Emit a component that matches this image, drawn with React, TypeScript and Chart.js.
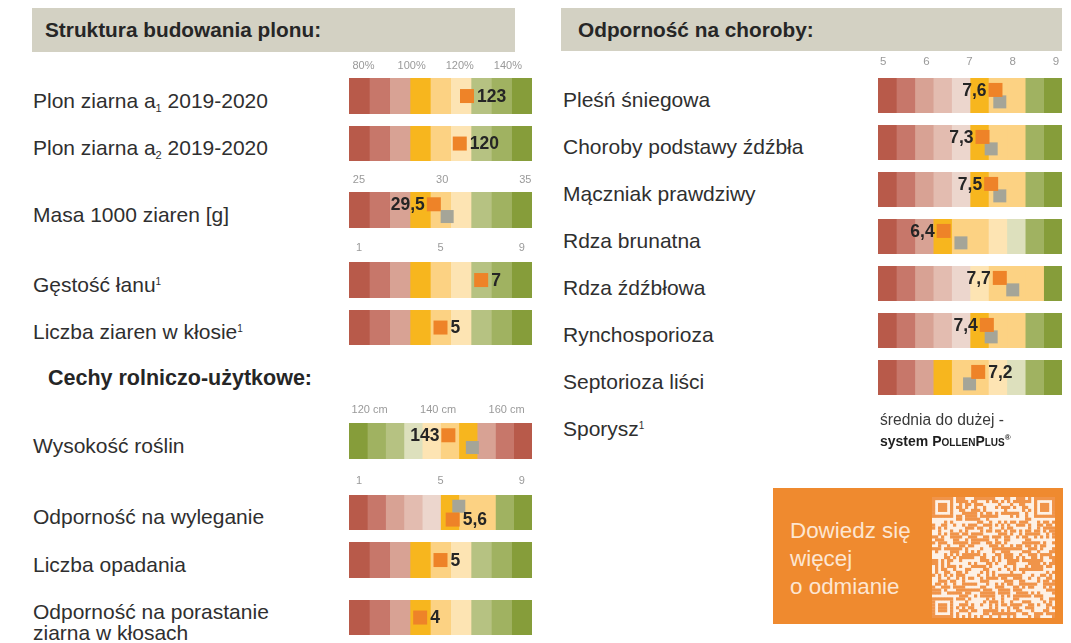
import React, { useEffect, useRef } from "react";
import { Chart, registerables } from "chart.js";

Chart.register(...registerables);

// ---------------- DATA ----------------
const structLabels = ["Plon ziarna a₁ 2019-2020", "Plon ziarna a₂ 2019-2020", "Masa 1000 ziaren [g]", "Gęstość łanu¹", "Liczba ziaren w kłosie¹"];
const structValues = [123, 120, 29.5, 7, 5];
const structRefs: (number | null)[] = [null, null, 30.3, null, null];

const traitLabels = ["Wysokość roślin", "Odporność na wyleganie", "Liczba opadania", "Odporność na porastanie\nziarna w kłosach"];
const traitValues = [143, 5.6, 5, 4];
const traitRefs: (number | null)[] = [150, 5.9, null, null];

const diseaseLabels = ["Pleśń śniegowa", "Choroby podstawy źdźbła", "Mączniak prawdziwy", "Rdza brunatna", "Rdza źdźbłowa", "Rynchosporioza", "Septorioza liści", "Sporysz¹"];
const diseaseValues: (number | null)[] = [7.6, 7.3, 7.5, 6.4, 7.7, 7.4, 7.2, null];
const diseaseRefs: (number | null)[] = [7.7, 7.5, 7.7, 6.8, 8.0, 7.5, 7.0, null];

const percentTicks = [80, 100, 120, 140];
const tkwTicks = [25, 30, 35];
const scoreTicks = [1, 5, 9];
const heightTicks = [120, 140, 160];
const diseaseTicks = [5, 6, 7, 8, 9];

// ---------------- STYLE ----------------
const FONT = '"Liberation Sans", Arial, Helvetica, sans-serif';
const ORANGE = "#ee8328";
const GREY = "#a5a598";
const DR = "#b85a4a", RD = "#c7776a", PK = "#d8a294", LP = "#e3bcb0", VP = "#ecd6cd";
const GD = "#f7b61e", LO = "#fcd283", CR = "#fde4b3", VG = "#dde0bd", LG = "#b6c282", MG = "#a0b261", DG = "#869d3a";
const std9 = [DR, RD, PK, GD, LO, CR, LG, MG, DG];
const pinkGold10 = [DR, RD, PK, LP, VP, GD, LO, LO, MG, DG];
const goldEarly10 = [DR, RD, PK, GD, LO, LO, CR, VG, MG, DG];
const rust10 = [DR, RD, PK, LP, VP, CR, LO, LO, LO, DG];
const height10 = [DG, MG, LG, VG, CR, LO, GD, PK, RD, DR];

type RowSpec = {
  x: number; top: number; w: number; h: number;
  min: number; max: number; colors: string[];
  value: number; refValue: number | null;
  ticks?: number[]; suffix?: string; tickGap?: number; tickFont?: number;
  side: "left" | "right"; refAbove?: boolean;
};

const fmt = (v: number) => String(v).replace(".", ",");

function BarRow({ spec }: { spec: RowSpec }) {
  const ref = useRef<HTMLCanvasElement>(null);
  const PADX = 14, PADT = 26, PADB = 2;
  const cw = spec.w + PADX * 2;
  const ch = spec.h + PADT + PADB;
  useEffect(() => {
    if (!ref.current) return;
    const n = spec.colors.length;
    const step = (spec.max - spec.min) / n;
    const bands = spec.colors.map((c, i) => ({
      type: "bar",
      indexAxis: "y",
      grouped: false,
      barThickness: spec.h,
      data: [{ x: [spec.min + i * step, spec.min + (i + 1) * step], y: 0.5 }],
      backgroundColor: c,
      borderWidth: 0,
    }));
    const hasRef = spec.refValue !== null;
    const oy = hasRef ? (spec.refAbove ? 0.3 : 0.66) : 0.5;
    const gy = spec.refAbove ? 0.68 : 0.32;
    const datasets: any[] = [
      { type: "scatter", data: [{ x: spec.value, y: oy }], pointStyle: "rect", pointRadius: 9.9, pointHoverRadius: 9.9, backgroundColor: ORANGE, borderWidth: 0 },
    ];
    if (hasRef) {
      datasets.push({ type: "scatter", data: [{ x: spec.refValue, y: gy }], pointStyle: "rect", pointRadius: 9.2, pointHoverRadius: 9.2, backgroundColor: GREY, borderWidth: 0 });
    }
    datasets.push(...bands);
    const textPlugin = {
      id: "rowText",
      afterDatasetsDraw(chart: any) {
        const ctx = chart.ctx;
        const xs = chart.scales.x;
        const top = chart.chartArea.top;
        ctx.save();
        if (spec.ticks) {
          ctx.font = `${spec.tickFont || 11}px ${FONT}`;
          ctx.fillStyle = "#9a9a9a";
          ctx.textAlign = "center";
          ctx.textBaseline = "middle";
          spec.ticks.forEach((t) => ctx.fillText(`${t}${spec.suffix || ""}`, xs.getPixelForValue(t), top - (spec.tickGap || 12)));
        }
        const pt = chart.getDatasetMeta(0).data[0];
        ctx.font = `bold 17.5px ${FONT}`;
        ctx.fillStyle = "#252525";
        ctx.textBaseline = "middle";
        const lbl = fmt(spec.value);
        if (spec.side === "right") {
          ctx.textAlign = "left";
          ctx.fillText(lbl, pt.x + 10, pt.y + 1);
        } else {
          ctx.textAlign = "right";
          ctx.fillText(lbl, pt.x - 9, pt.y + 1);
        }
        ctx.restore();
      },
    };
    const chart = new Chart(ref.current, {
      type: "bar",
      data: { datasets },
      options: {
        animation: false,
        responsive: false,
        devicePixelRatio: 1,
        events: [],
        layout: { padding: { left: PADX, right: PADX, top: PADT, bottom: PADB } },
        plugins: { legend: { display: false }, tooltip: { enabled: false } },
        scales: {
          x: { type: "linear", min: spec.min, max: spec.max, display: false, offset: false, grid: { offset: false } },
          y: { type: "linear", min: 0, max: 1, display: false, offset: false, ticks: { stepSize: 1 } },
        },
      } as any,
      plugins: [textPlugin],
    } as any);
    return () => chart.destroy();
  }, []);
  return (
    <canvas
      ref={ref}
      width={cw}
      height={ch}
      style={{ position: "absolute", left: spec.x - PADX, top: spec.top - PADT, width: cw, height: ch }}
    />
  );
}

function QrBox() {
  const ref = useRef<HTMLCanvasElement>(null);
  useEffect(() => {
    const c = ref.current;
    if (!c) return;
    const ctx = c.getContext("2d")!;
    const N = 41, W = 123, H = 121;
    const sx = W / N, sy = H / N;
    ctx.fillStyle = "#fdf1e6";
    ctx.fillRect(0, 0, W, H);
    ctx.fillStyle = "#f0944a";
    const finder = (i: number, j: number) => {
      const corners = [[0, 0], [N - 7, 0], [0, N - 7]];
      for (const [x0, y0] of corners) {
        if (i >= x0 && i < x0 + 7 && j >= y0 && j < y0 + 7) {
          const a = i - x0, b = j - y0;
          if (a === 0 || a === 6 || b === 0 || b === 6) return 1;
          if (a >= 2 && a <= 4 && b >= 2 && b <= 4) return 1;
          return 0;
        }
        if (i >= x0 - 1 && i <= x0 + 7 && j >= y0 - 1 && j <= y0 + 7) return 0;
      }
      return -1;
    };
    for (let i = 0; i < N; i++) {
      for (let j = 0; j < N; j++) {
        const f = finder(i, j);
        let on = f === 1;
        if (f === -1) {
          let s = (i * 374761393 + j * 668265263) >>> 0;
          s = Math.imul(s ^ (s >>> 13), 1274126177) >>> 0;
          on = ((s >>> 16) & 3) < 2;
        }
        if (on) ctx.fillRect(i * sx, j * sy, sx + 0.2, sy + 0.2);
      }
    }
  }, []);
  return <canvas ref={ref} width={123} height={121} style={{ position: "absolute", left: 932, top: 497 }} />;
}

function RichLabel({ text }: { text: string }) {
  const parts: React.ReactNode[] = [];
  let buf = "";
  let k = 0;
  const flush = () => { if (buf) { parts.push(<span key={k++}>{buf}</span>); buf = ""; } };
  for (const ch of text) {
    if (ch === "₁" || ch === "₂") {
      flush();
      parts.push(<sub key={k++} style={{ fontSize: 11, verticalAlign: -4, lineHeight: 0 }}>{ch === "₁" ? "1" : "2"}</sub>);
    } else if (ch === "¹") {
      flush();
      parts.push(<sup key={k++} style={{ fontSize: 10, verticalAlign: 7, lineHeight: 0 }}>1</sup>);
    } else if (ch === "\n") {
      flush();
      parts.push(<br key={k++} />);
    } else buf += ch;
  }
  flush();
  return <>{parts}</>;
}

function Label({ text, x, cy }: { text: string; x: number; cy: number }) {
  const lines = text.split("\n").length;
  const lh = 21;
  return (
    <div style={{ position: "absolute", left: x, top: cy - (lines * lh) / 2, fontSize: 21, lineHeight: `${lh}px`, whiteSpace: "nowrap", color: "#2f2f2f" }}>
      <RichLabel text={text} />
    </div>
  );
}

const LX = 349, LW = 183, RX = 878, RW = 184;
const structTops = [78, 126, 192, 262, 310];
const traitTops = [423, 495, 542, 600];
const diseaseTops = [78, 125, 172, 219, 266, 313, 360];
const BH = 43;

const structSpecs: RowSpec[] = [
  { x: LX, top: structTops[0], w: LW, h: 44, min: 74, max: 150, colors: std9, value: structValues[0], refValue: structRefs[0], ticks: percentTicks, suffix: "%", tickGap: 12, side: "right" },
  { x: LX, top: structTops[1], w: LW, h: BH, min: 74, max: 150, colors: std9, value: structValues[1], refValue: structRefs[1], side: "right" },
  { x: LX, top: structTops[2], w: LW, h: 44, min: 24.4, max: 35.4, colors: std9, value: structValues[2], refValue: structRefs[2], ticks: tkwTicks, tickGap: 12, side: "left" },
  { x: LX, top: structTops[3], w: LW, h: 44, min: 0.5, max: 9.5, colors: std9, value: structValues[3], refValue: structRefs[3], ticks: scoreTicks, tickGap: 14, side: "right" },
  { x: LX, top: structTops[4], w: LW, h: BH, min: 0.5, max: 9.5, colors: std9, value: structValues[4], refValue: structRefs[4], side: "right" },
];
const traitSpecs: RowSpec[] = [
  { x: LX, top: traitTops[0], w: LW, h: 44, min: 114, max: 167.4, colors: height10, value: traitValues[0], refValue: traitRefs[0], ticks: heightTicks, suffix: " cm", tickGap: 13, side: "left" },
  { x: LX, top: traitTops[1], w: LW, h: BH, min: 0.5, max: 9.5, colors: pinkGold10, value: traitValues[1], refValue: traitRefs[1], ticks: scoreTicks, tickGap: 14, side: "right", refAbove: true },
  { x: LX, top: traitTops[2], w: LW, h: 44, min: 0.5, max: 9.5, colors: std9, value: traitValues[2], refValue: traitRefs[2], side: "right" },
  { x: LX, top: traitTops[3], w: LW, h: BH, min: 0.5, max: 9.5, colors: std9, value: traitValues[3], refValue: traitRefs[3], side: "right" },
];
const diseaseColors = [pinkGold10, pinkGold10, pinkGold10, goldEarly10, rust10, pinkGold10, goldEarly10];
const diseaseSpecs: RowSpec[] = diseaseTops.map((t, i) => ({
  x: RX, top: t, w: RW, h: BH, min: 4.88, max: 9.14, colors: diseaseColors[i],
  value: diseaseValues[i] as number, refValue: diseaseRefs[i],
  ticks: i === 0 ? diseaseTicks : undefined, tickGap: 16, tickFont: 11.5,
  side: i === 6 ? "right" : "left",
}));

export default function App() {
  return (
    <div style={{ position: "fixed", left: 0, top: 0, width: 1071, height: 643, background: "#ffffff", overflow: "hidden", fontFamily: FONT }}>
      <div style={{ position: "absolute", left: 32, top: 8, width: 483, height: 44, background: "#d3d1c3" }} />
      <div style={{ position: "absolute", left: 45, top: 8, height: 44, lineHeight: "44px", fontSize: 20.8, fontWeight: "bold", color: "#262626", whiteSpace: "nowrap" }}>Struktura budowania plonu:</div>
      <div style={{ position: "absolute", left: 561, top: 8, width: 501, height: 43, background: "#d3d1c3" }} />
      <div style={{ position: "absolute", left: 578, top: 8, height: 43, lineHeight: "43px", fontSize: 20.8, fontWeight: "bold", color: "#262626", whiteSpace: "nowrap" }}>Odporność na choroby:</div>

      {structLabels.map((l, i) => <Label key={"s" + i} text={l} x={33} cy={structTops[i] + structSpecs[i].h / 2} />)}
      <div style={{ position: "absolute", left: 48, top: 366, lineHeight: "24px", fontSize: 21.5, fontWeight: "bold", color: "#262626", whiteSpace: "nowrap" }}>Cechy rolniczo-użytkowe:</div>
      {traitLabels.map((l, i) => <Label key={"t" + i} text={l} x={33} cy={traitTops[i] + traitSpecs[i].h / 2} />)}
      {diseaseLabels.map((l, i) => <Label key={"d" + i} text={l} x={563} cy={i < diseaseTops.length ? diseaseTops[i] + BH / 2 : 428} />)}

      {structSpecs.map((s, i) => <BarRow key={"sb" + i} spec={s} />)}
      {traitSpecs.map((s, i) => <BarRow key={"tb" + i} spec={s} />)}
      {diseaseSpecs.map((s, i) => <BarRow key={"db" + i} spec={s} />)}

      <div style={{ position: "absolute", left: 880, top: 411, fontSize: 15.6, lineHeight: "18px", color: "#3a3a3a", whiteSpace: "nowrap" }}>średnia do dużej -</div>
      <div style={{ position: "absolute", left: 880, top: 432, fontSize: 14, lineHeight: "18px", color: "#1e1e1e", fontWeight: "bold", whiteSpace: "nowrap" }}>
        system <span style={{ fontVariant: "small-caps" }}>PollenPlus</span><sup style={{ fontSize: 8, verticalAlign: 6, lineHeight: 0 }}>®</sup>
      </div>

      <div style={{ position: "absolute", left: 773, top: 488, width: 290, height: 136, background: "#ef8a2f" }} />
      <div style={{ position: "absolute", left: 790, top: 517, fontSize: 22.4, lineHeight: "28px", color: "#fde6d2", whiteSpace: "nowrap" }}>
        Dowiedz się<br />więcej<br />o odmianie
      </div>
      <QrBox />
    </div>
  );
}
